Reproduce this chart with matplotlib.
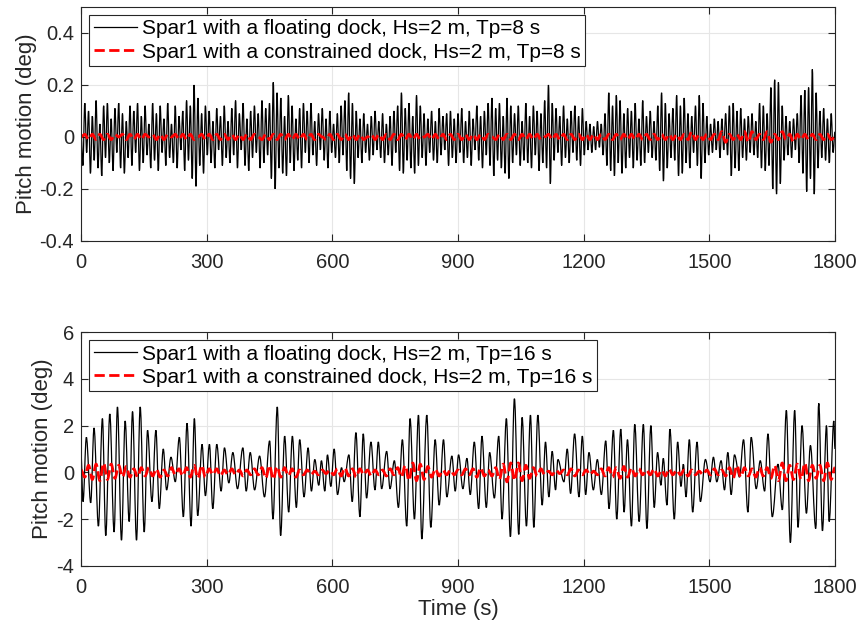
#!/usr/bin/env python3
import matplotlib as mpl
mpl.use('Agg')
import matplotlib.pyplot as plt
from matplotlib.path import Path
from matplotlib.patches import PathPatch
from matplotlib.lines import Line2D
import numpy as np

mpl.rcParams['font.family'] = ['Liberation Sans', 'DejaVu Sans']
mpl.rcParams['font.size'] = 14.0

# ---- Tp = 8 s: floating dock, extrema every 4.5 s (deg)
top_dt = 4.5
top_float = [
    0.02, -0.11, 0.13, -0.06, 0.10, -0.14, 0.08, -0.09, 0.14, -0.12, 0.05, -0.15, 0.12, -0.08, 0.13, -0.10, 0.07, -0.13, 0.11, -0.06,
    0.13, -0.12, 0.09, -0.14, 0.06, -0.08, 0.12, -0.11, 0.10, -0.06, 0.13, -0.13, 0.08, -0.10, 0.12, -0.07, 0.05, -0.12, 0.13, -0.09,
    0.09, -0.13, 0.12, -0.06, 0.07, -0.11, 0.13, -0.08, 0.05, -0.10, 0.12, -0.12, 0.08, -0.05, 0.10, -0.13, 0.14, -0.09, 0.12, -0.16,
    0.20, -0.19, 0.15, -0.11, 0.09, -0.14, 0.12, -0.07, 0.10, -0.10, 0.06, -0.12, 0.11, -0.05, 0.08, -0.11, 0.12, -0.08, 0.06, -0.10,
    0.11, -0.07, 0.14, -0.12, 0.09, -0.05, 0.13, -0.11, 0.07, -0.13, 0.10, -0.08, 0.12, -0.06, 0.09, -0.12, 0.14, -0.10, 0.11, -0.07,
    0.13, -0.16, 0.21, -0.20, 0.17, -0.12, 0.15, -0.14, 0.08, -0.15, 0.16, -0.10, 0.12, -0.13, 0.07, -0.09, 0.11, -0.12, 0.13, -0.06,
    0.10, -0.10, 0.13, -0.07, 0.06, -0.11, 0.09, -0.05, 0.11, -0.09, 0.07, -0.12, 0.10, -0.06, 0.05, -0.08, 0.09, -0.10, 0.12, -0.07,
    0.14, -0.13, 0.17, -0.16, 0.13, -0.18, 0.10, -0.08, 0.07, -0.10, 0.09, -0.06, 0.05, -0.09, 0.08, -0.07, 0.10, -0.05, 0.06, -0.08,
    0.09, -0.10, 0.05, -0.07, 0.08, -0.11, 0.10, -0.06, 0.12, -0.13, 0.17, -0.14, 0.11, -0.09, 0.13, -0.12, 0.08, -0.14, 0.16, -0.11,
    0.12, -0.08, 0.09, -0.11, 0.07, -0.06, 0.10, -0.09, 0.06, -0.10, 0.11, -0.07, 0.08, -0.05, 0.09, -0.11, 0.10, -0.08, 0.07, -0.10,
    0.09, -0.06, 0.11, -0.10, 0.06, -0.08, 0.10, -0.11, 0.07, -0.05, 0.12, -0.09, 0.08, -0.12, 0.10, -0.07, 0.13, -0.11, 0.15, -0.15,
    0.11, -0.09, 0.13, -0.12, 0.08, -0.14, 0.15, -0.16, 0.12, -0.10, 0.09, -0.07, 0.12, -0.11, 0.06, -0.09, 0.13, -0.10, 0.08, -0.12,
    0.12, -0.07, 0.10, -0.13, 0.09, -0.10, 0.14, -0.12, 0.20, -0.18, 0.13, -0.09, 0.11, -0.06, 0.08, -0.11, 0.12, -0.08, 0.07, -0.10,
    0.10, -0.06, 0.12, -0.09, 0.08, -0.11, 0.11, -0.07, 0.06, -0.05, 0.05, -0.06, 0.04, -0.05, 0.06, -0.04, 0.05, -0.07, 0.09, -0.11,
    0.17, -0.13, 0.12, -0.15, 0.16, -0.10, 0.14, -0.14, 0.09, -0.12, 0.11, -0.08, 0.10, -0.12, 0.13, -0.09, 0.07, -0.11, 0.14, -0.10,
    0.08, -0.06, 0.10, -0.08, 0.06, -0.09, 0.12, -0.13, 0.17, -0.17, 0.13, -0.12, 0.09, -0.08, 0.11, -0.09, 0.16, -0.15, 0.12, -0.14,
    0.15, -0.10, 0.09, -0.12, 0.08, -0.06, 0.12, -0.11, 0.16, -0.16, 0.13, -0.10, 0.08, -0.07, 0.05, -0.06, 0.07, -0.05, 0.06, -0.08,
    0.07, -0.05, 0.09, -0.07, 0.12, -0.15, 0.13, -0.12, 0.10, -0.13, 0.11, -0.08, 0.07, -0.09, 0.08, -0.06, 0.09, -0.07, 0.06, -0.08,
    0.13, -0.12, 0.12, -0.13, 0.09, -0.11, 0.19, -0.20, 0.22, -0.22, 0.21, -0.18, 0.12, -0.09, 0.08, -0.07, 0.06, -0.08, 0.07, -0.05,
    0.09, -0.10, 0.16, -0.14, 0.18, -0.21, 0.19, -0.16, 0.26, -0.22, 0.17, -0.12, 0.10, -0.08, 0.11, -0.09, 0.07, -0.10, 0.09, -0.06,
    0.02,
]

# ---- Tp = 8 s: constrained dock, every 9 s (deg)
top_dt_c = 9.0
top_con = [
    0.00, 0.01, -0.01, 0.01, -0.01, 0.01, -0.01, 0.01, -0.01, 0.01, 0.00, 0.01, -0.01, 0.01, -0.01, 0.01, -0.01, 0.01, 0.00, 0.01,
    -0.01, 0.01, -0.01, 0.01, 0.00, 0.01, -0.01, 0.01, -0.01, 0.01, -0.01, 0.00, 0.01, -0.01, 0.01, -0.01, 0.01, -0.01, 0.01, -0.01,
    0.01, -0.01, 0.01, -0.01, 0.01, -0.01, 0.01, 0.00, -0.01, 0.01, -0.01, 0.01, -0.01, 0.01, -0.01, 0.01, -0.01, 0.01, -0.01, 0.01,
    -0.01, 0.01, -0.01, 0.01, 0.00, -0.01, 0.01, -0.01, 0.01, -0.01, 0.01, -0.01, 0.01, -0.01, 0.01, -0.01, 0.00, 0.01, -0.01, 0.01,
    -0.01, 0.01, -0.01, 0.01, -0.01, 0.01, -0.01, 0.01, -0.01, 0.01, -0.01, 0.00, 0.01, -0.01, 0.01, -0.01, 0.01, -0.01, 0.01, -0.01,
    0.01, -0.01, 0.01, -0.01, 0.01, -0.01, 0.01, -0.01, 0.01, 0.00, -0.01, 0.01, -0.01, 0.01, -0.01, 0.01, -0.01, 0.01, -0.01, 0.01,
    -0.01, 0.01, -0.01, 0.00, 0.01, -0.01, 0.01, -0.01, 0.01, -0.01, 0.01, -0.01, 0.01, -0.01, 0.01, -0.01, 0.01, -0.01, 0.01, -0.01,
    0.01, -0.01, 0.01, -0.01, 0.01, -0.01, 0.01, -0.01, 0.01, -0.01, 0.01, -0.01, 0.01, -0.01, 0.01, -0.01, 0.01, -0.01, 0.01, -0.01,
    0.01, -0.01, 0.02, -0.01, 0.01, -0.01, 0.01, -0.01, 0.01, -0.01, 0.02, -0.02, 0.01, -0.01, 0.01, -0.01, 0.02, -0.02, 0.02, -0.01,
    0.01, -0.01, 0.02, -0.02, 0.01, -0.01, 0.02, -0.01, 0.01, -0.02, 0.01, -0.01, 0.01, -0.01, 0.01, -0.01, 0.01, -0.01, 0.01, -0.01,
    0.00,
]

# ---- Tp = 16 s: floating dock, extrema (time s, deg)
bot_time = [
    0.0, 4.8, 12.8, 23.1, 31.1, 41.5, 51.1, 59.1, 68.7, 79.0, 87.0, 96.6, 105.4, 115.0, 123.0, 132.5, 141.3, 150.9, 158.9, 169.3,
    178.8, 186.8, 196.4, 204.4, 214.8, 225.1, 234.7, 244.3, 253.1, 262.7, 270.6, 278.6, 289.0, 297.0, 306.6, 314.6, 324.1, 334.5, 342.5, 352.9,
    362.5, 373.6, 386.4, 394.4, 404.0, 414.4, 426.3, 438.0, 450.3, 458.3, 468.6, 476.6, 486.2, 495.8, 504.6, 514.1, 522.1, 532.5, 542.1, 550.1,
    558.1, 567.6, 574.0, 582.0, 588.4, 596.4, 604.4, 612.4, 622.0, 628.3, 639.5, 647.5, 656.3, 665.8, 673.8, 681.8, 692.2, 701.8, 709.8, 717.7,
    729.7, 737.7, 748.1, 757.7, 767.2, 777.6, 785.6, 796.0, 805.6, 813.6, 825.5, 835.1, 845.5, 855.1, 865.4, 873.4, 885.4, 893.4, 901.4, 911.7,
    921.3, 929.3, 938.9, 949.3, 957.2, 967.6, 975.6, 986.8, 997.2, 1005.2, 1015.5, 1025.1, 1034.7, 1045.1, 1053.1, 1063.4, 1073.0, 1081.0, 1090.6, 1101.0,
    1108.9, 1116.9, 1124.9, 1132.9, 1138.5, 1152.9, 1160.8, 1168.8, 1178.4, 1188.8, 1196.8, 1204.8, 1212.7, 1223.1, 1232.7, 1242.3, 1252.7, 1260.6, 1271.0, 1279.0,
    1288.6, 1296.6, 1304.6, 1314.1, 1322.0, 1332.5, 1342.5, 1351.0, 1360.5, 1368.5, 1376.5, 1384.5, 1390.1, 1398.9, 1406.0, 1416.4, 1424.4, 1432.4, 1438.0, 1444.4,
    1452.3, 1460.3, 1470.7, 1478.7, 1490.7, 1501.8, 1509.8, 1517.8, 1528.2, 1536.2, 1544.2, 1552.2, 1560.1, 1572.1, 1581.7, 1592.1, 1600.0, 1612.0, 1621.6, 1632.0,
    1640.0, 1650.3, 1663.9, 1674.3, 1683.9, 1693.5, 1703.8, 1711.8, 1721.4, 1731.8, 1741.4, 1754.1, 1761.3, 1770.1, 1779.7, 1786.1, 1797.3, 1800.0,
]
bot_float = [
    0.77, -1.25, 1.5, -1.3, 1.9, -2.3, 2.3, -2.7, 2.5, -2.55, 2.8, -2.9, 2.2, -2.1, 2.6, -2.9, 2.8, -2.55, 1.8, -1.25,
    1.8, -1.55, 1.0, -0.75, 0.65, -0.4, 1.5, -1.9, 2.1, -2.3, 2.3, -1.85, 1.2, -1.0, 1.2, -1.55, 1.2, -0.8, 1.05, -0.45,
    0.85, -0.7, 1.05, -0.8, 0.85, -0.75, 0.7, -1.05, 1.35, -2.0, 2.8, -2.7, 1.55, -1.7, 1.55, -1.5, 1.4, -1.05, 1.05, -0.8,
    0.55, -0.55, 0.5, -0.8, 0.75, -0.6, 1.0, -0.95, 0.2, -0.4, 0.75, -1.25, 1.7, -1.9, 1.65, -1.1, 1.3, -0.75, 1.3, -0.7,
    0.9, -0.7, 0.5, -1.5, 1.4, -2.3, 2.3, -2.0, 2.45, -2.85, 2.45, -2.35, 1.4, -1.4, 1.4, -1.05, 0.7, -0.8, 0.75, -0.7,
    0.6, -0.95, 1.3, -1.55, 1.55, -1.5, 0.85, -1.1, 1.55, -2.0, 2.3, -2.75, 3.15, -2.65, 2.35, -2.3, 2.45, -2.35, 2.45, -1.4,
    1.3, -1.05, 0.9, -0.75, 0.55, -0.4, 1.0, -0.9, 1.65, -1.05, 1.55, -0.95, 0.85, -0.75, 0.55, -0.95, 1.35, -1.55, 1.8, -2.0,
    1.85, -1.7, 1.4, -2.3, 2.05, -2.1, 2.05, -2.4, 2.0, -1.5, 0.85, -0.55, 0.6, -1.4, 1.85, -2.0, 1.3, -0.6, 0.35, -1.05,
    1.4, -1.7, 1.3, -1.25, 0.55, -0.4, 0.65, -0.4, 0.5, -0.75, 0.85, -0.95, 0.75, -0.2, 1.4, -1.7, 1.5, -0.7, 0.5, -0.8,
    1.65, -1.9, 0.35, -1.6, 2.65, -3.0, 2.65, -2.35, 2.0, -1.75, 1.15, -2.4, 2.95, -2.5, 2.0, -2.1, 2.2, 1.0,
]

# ---- Tp = 16 s: constrained dock, every 9 s (deg)
bot_dt_c = 9.0
bot_con = [
    0.1, -0.2, 0.3, -0.3, 0.35, -0.35, 0.4, -0.3, 0.35, -0.25, 0.3, -0.2, 0.25, -0.2, 0.15, -0.2, 0.2, -0.15, 0.2, -0.15,
    0.15, -0.2, 0.1, -0.15, 0.2, -0.1, 0.15, -0.15, 0.2, -0.2, 0.3, -0.25, 0.3, -0.2, 0.15, -0.1, 0.15, -0.15, 0.1, -0.1,
    0.15, -0.1, 0.1, -0.15, 0.1, -0.1, 0.15, -0.1, 0.2, -0.25, 0.3, -0.3, 0.25, -0.2, 0.2, -0.15, 0.15, -0.2, 0.1, -0.1,
    0.1, -0.1, 0.05, -0.1, 0.1, -0.05, 0.1, -0.1, 0.15, -0.15, 0.2, -0.15, 0.15, -0.2, 0.15, -0.1, 0.1, -0.15, 0.1, -0.1,
    0.1, -0.15, 0.15, -0.1, 0.2, -0.2, 0.3, -0.35, 0.4, -0.35, 0.35, -0.3, 0.25, -0.2, 0.15, -0.15, 0.1, -0.1, 0.1, -0.1,
    0.1, -0.1, 0.15, -0.1, 0.15, -0.2, 0.2, -0.15, 0.1, -0.15, 0.2, -0.3, 0.35, -0.4, 0.4, -0.35, 0.4, -0.35, 0.3, -0.25,
    0.2, -0.15, 0.15, -0.1, 0.05, -0.1, 0.1, -0.05, 0.1, -0.1, 0.15, -0.15, 0.1, -0.1, 0.1, -0.1, 0.05, -0.1, 0.15, -0.15,
    0.2, -0.2, 0.2, -0.25, 0.25, -0.2, 0.2, -0.15, 0.15, -0.1, 0.1, -0.1, 0.15, -0.15, 0.1, -0.15, 0.15, -0.1, 0.1, -0.1,
    0.1, -0.15, 0.1, -0.1, 0.05, -0.1, 0.1, -0.1, 0.15, -0.1, 0.1, -0.15, 0.2, -0.25, 0.3, -0.2, 0.2, -0.15, 0.15, -0.2,
    0.2, -0.15, 0.2, -0.25, 0.3, -0.35, 0.4, -0.35, 0.3, -0.3, 0.35, -0.3, 0.4, -0.35, 0.3, -0.25, 0.3, -0.35, 0.4, -0.3,
    0.2,
]

labels_top = ['Spar1 with a floating dock, Hs=2 m, Tp=8 s',
              'Spar1 with a constrained dock, Hs=2 m, Tp=8 s']
labels_bot = ['Spar1 with a floating dock, Hs=2 m, Tp=16 s',
              'Spar1 with a constrained dock, Hs=2 m, Tp=16 s']


def wave(ax, t, y, **kw):
    # smooth curve through the extrema: cubic segments, flat at each peak
    t = np.asarray(t, float)
    y = np.asarray(y, float)
    verts = [(t[0], y[0])]
    codes = [Path.MOVETO]
    for i in range(len(t) - 1):
        d = 0.36 * (t[i + 1] - t[i])
        verts += [(t[i] + d, y[i]), (t[i + 1] - d, y[i + 1]), (t[i + 1], y[i + 1])]
        codes += [Path.CURVE4] * 3
    ax.add_patch(PathPatch(Path(verts, codes), fill=False, **kw))


axcol = '#262626'
fig = plt.figure(figsize=(8.6, 6.34), dpi=100)
ax1 = fig.add_axes([0.0942, 0.620, 0.8767, 0.369])
ax2 = fig.add_axes([0.0942, 0.1073, 0.8767, 0.369])

t_top = np.arange(len(top_float)) * top_dt
t_top_c = np.arange(len(top_con)) * top_dt_c
t_bot_c = np.arange(len(bot_con)) * bot_dt_c

wave(ax1, t_top, top_float, edgecolor='k', lw=0.9)
wave(ax1, t_top_c, top_con, edgecolor='r', lw=2.0, linestyle='--')
wave(ax2, bot_time, bot_float, edgecolor='k', lw=0.9)
wave(ax2, t_bot_c, bot_con, edgecolor='r', lw=2.0, linestyle='--')

ax1.set_ylim(-0.4, 0.5)
ax1.set_yticks([-0.4, -0.2, 0, 0.2, 0.4])
ax1.set_yticklabels(['-0.4', '-0.2', '0', '0.2', '0.4'])
ax2.set_ylim(-4, 6)
ax2.set_yticks([-4, -2, 0, 2, 4, 6])
ax2.set_yticklabels(['-4', '-2', '0', '2', '4', '6'])

for ax, labs in ((ax1, labels_top), (ax2, labels_bot)):
    ax.set_xlim(0, 1800)
    ax.set_xticks(np.arange(0, 1801, 300))
    ax.grid(True, color='#e6e6e6', lw=0.8)
    ax.set_axisbelow(True)
    ax.tick_params(direction='in', top=True, right=True, length=5,
                   labelsize=14.5, colors=axcol, pad=5)
    ax.tick_params(axis='x', pad=9)
    for s in ax.spines.values():
        s.set_color(axcol)
        s.set_linewidth(0.8)
    ax.set_ylabel('Pitch motion (deg)', fontsize=16, color=axcol, labelpad=2)
    handles = [Line2D([], [], color='k', lw=0.9),
               Line2D([], [], color='r', lw=2.0, linestyle='--')]
    leg = ax.legend(handles, labs, loc='upper left', fontsize=15,
                    handlelength=2.1, borderaxespad=0.4, fancybox=False,
                    framealpha=1, edgecolor=axcol, labelspacing=0.2,
                    borderpad=0.2, handletextpad=0.25)
    leg.get_frame().set_linewidth(0.8)

ax2.set_xlabel('Time (s)', fontsize=16, color=axcol, labelpad=1)

fig.savefig('out.png', dpi=100)
